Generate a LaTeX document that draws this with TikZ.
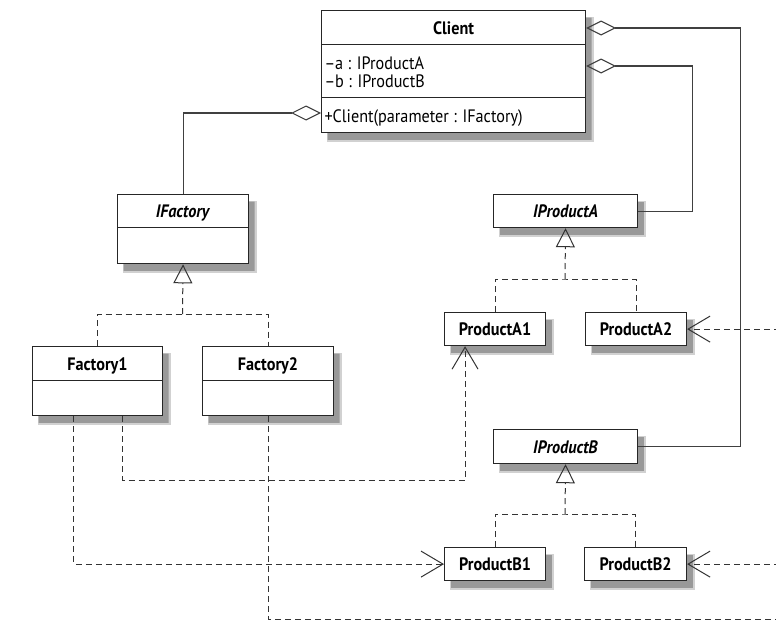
\documentclass[tikz,border=0pt]{standalone}
\usepackage{fontspec}
\setmainfont{PT Sans}[FakeStretch = 0.9]
\usetikzlibrary{arrows.meta, shapes.multipart, shadows}
\newcommand{\rowstrut}[1]{\rule[-10pt]{0pt}{#1}}

\tikzset{
  cls/.style = {draw = black!85, line width = 1.1pt, fill = white, rectangle split, rectangle split parts = #1,
    anchor = north west, inner xsep = 3pt, inner ysep = 0pt, align = left, font = \fontsize{18}{18}\selectfont,
    general shadow = {shadow xshift = 7pt, shadow yshift = -8pt, fill = black!18, draw = black!18, line width = 3pt},
    general shadow = {shadow xshift = 6pt, shadow yshift = -7pt, fill = black!40}},
  cls/.default = 1,
  agg/.style = {draw = black!75, line width = 1.1pt, {Diamond[open, length = 30pt, width = 15pt]}-},
  dep/.style = {draw = black!80, line width = 1pt, dash pattern = on 6pt off 4pt, >={Straight Barb[length = 22pt, width = 26pt]}},
  real/.style = {dep, -{Triangle[open, length = 19pt, width = 19pt]}}
}

\begin{document}
\begin{tikzpicture}[x = 1pt, y = -1pt]
\useasboundingbox (0,0) rectangle (776,621);
\clip (0,0) rectangle (776,621);
\node [cls = 3, minimum width = 264pt, rectangle split part align = {center, left, left}] (Cl) at (321,10)
  {\rowstrut{33pt}\textbf{Client}
   \nodepart{two} \rule{0pt}{24pt}–a : IProductA\\–b : IProductB\rule[-10pt]{0pt}{10pt}
   \nodepart{three} \rowstrut{34pt}+Client(parameter : IFactory)};
\node [cls = 2, minimum width = 131pt] (F) at (117,194) {\rowstrut{32pt}\textbf{\textit{IFactory}} \nodepart{two} \rowstrut{35pt}};
\node [cls = 2, minimum width = 130pt] (F1) at (32,346) {\rowstrut{33pt}\textbf{Factory1} \nodepart{two} \rowstrut{34pt}};
\node [cls = 2, minimum width = 131pt] (F2) at (202,346) {\rowstrut{33pt}\textbf{Factory2} \nodepart{two} \rowstrut{34pt}};
\node [cls, minimum width = 144pt] (IA) at (493,194) {\rowstrut{32pt}\textbf{\textit{IProductA}}};
\node [cls, minimum width = 101pt] (A1) at (444,312) {\rowstrut{32pt}\textbf{ProductA1}};
\node [cls, minimum width = 101pt] (A2) at (585,312) {\rowstrut{32pt}\textbf{ProductA2}};
\node [cls, minimum width = 144pt] (IB) at (493,429) {\rowstrut{33pt}\textbf{\textit{IProductB}}};
\node [cls, minimum width = 101pt] (B1) at (444,547) {\rowstrut{32pt}\textbf{ProductB1}};
\node [cls, minimum width = 102pt] (B2) at (584,547) {\rowstrut{32pt}\textbf{ProductB2}};
\coordinate (Fbar) at (182.5,314);
\coordinate (Abar) at (565,279);
\coordinate (Bbar) at (565,514);
\coordinate (R) at (800,619);
\draw [agg] ([yshift = -103pt]Cl.north west) -| (F.north);
\draw [agg] ([yshift = -18pt]Cl.north east) -- ++(154,0) |- (IB.east);
\draw [agg] ([yshift = -56pt]Cl.north east) -- ++(106,0) |- (IA.east);
\draw [dep] (F1.north) |- (Fbar) -| (F2.north);
\draw [real] (Fbar) -- (F.south);
\draw [dep] (A1.north) |- (Abar) -| (A2.north);
\draw [real] (Abar) -- (IA.south);
\draw [dep] (B1.north) |- (Bbar) -| (B2.north);
\draw [real] (Bbar) -- (IB.south);
\draw [dep, ->] ([xshift = 25pt]F1.south) -- ++(0,64) -| ([xshift = -30pt]A1.south);
\draw [dep, ->] ([xshift = -24pt]F1.south) |- (B1.west);
\draw [dep, ->] (F2.south) |- (R) |- (B2.east);
\draw [dep, ->] (R) |- (A2.east);
\end{tikzpicture}
\end{document}
